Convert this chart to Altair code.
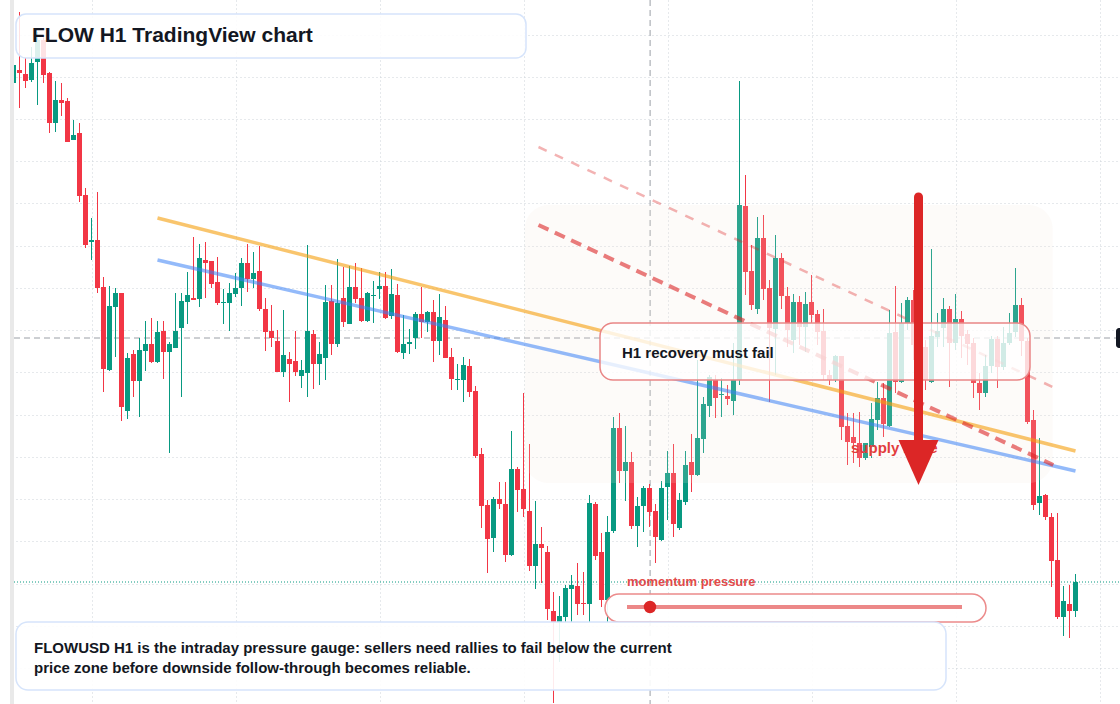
import altair as alt
import pandas as pd

# ---------------- data (prices in thousandths of a USD) ----------------
opens = [
    1017, 1030, 1026, 1020, 1038, 1060, 1027, 977, 1000, 999,
    960, 967, 905, 858, 860, 813, 730, 793, 807, 689,
    746, 719, 749, 756, 738, 769, 748, 752, 772, 798,
    802, 801, 840, 839, 818, 797, 797, 806, 812, 837,
    821, 829, 791, 769, 759, 728, 741, 739, 724, 727,
    766, 736, 742, 799, 756, 802, 776, 813, 802, 779,
    804, 811, 814, 784, 805, 747, 756, 762, 786, 778,
    788, 759, 780, 743, 720, 720, 734, 709, 646, 595,
    562, 601, 596, 545, 631, 611, 589, 534, 556, 548,
    489, 478, 483, 511, 514, 497, 496, 596, 548, 500,
    569, 672, 629, 638, 574, 594, 612, 589, 560, 613,
    627, 572, 598, 638, 625, 661, 694, 720, 705, 704,
    699, 720, 894, 829, 791, 862, 812, 771, 842, 804,
    760, 798, 773, 798, 786, 769, 725, 720, 744, 674,
    663, 657, 642, 653, 680, 702, 674, 768, 718, 777,
    800, 740, 753, 718, 763, 772, 791, 757, 781, 766,
    757, 717, 707, 734, 761, 733, 757, 768, 795, 759,
    680, 597, 605, 583, 540, 483, 496, 489,
]
highs = [
    1037, 1088, 1042, 1053, 1068, 1065, 1028, 1019, 1017, 1002,
    980, 977, 912, 882, 908, 823, 814, 812, 807, 747,
    750, 762, 779, 782, 779, 779, 758, 807, 807, 828,
    863, 856, 858, 839, 843, 811, 817, 827, 842, 856,
    848, 854, 802, 795, 770, 790, 748, 769, 740, 855,
    770, 758, 815, 815, 841, 833, 834, 837, 832, 808,
    819, 828, 828, 831, 816, 785, 771, 788, 813, 789,
    800, 806, 794, 752, 736, 743, 741, 714, 652, 600,
    603, 618, 618, 669, 633, 707, 656, 599, 573, 554,
    508, 504, 515, 525, 537, 528, 605, 598, 567, 584,
    683, 687, 674, 648, 603, 614, 616, 596, 619, 649,
    656, 607, 649, 666, 740, 703, 725, 725, 722, 715,
    757, 1019, 925, 855, 883, 885, 820, 865, 847, 813,
    806, 804, 808, 825, 790, 791, 730, 745, 744, 687,
    687, 688, 657, 697, 718, 717, 790, 814, 797, 803,
    810, 770, 760, 851, 787, 802, 794, 806, 789, 770,
    762, 727, 745, 764, 764, 773, 787, 832, 802, 762,
    690, 662, 606, 587, 587, 514, 515, 526,
]
lows = [
    1016, 992, 1012, 1018, 995, 1017, 967, 968, 984, 958,
    960, 898, 852, 840, 807, 708, 729, 743, 679, 681,
    703, 683, 729, 737, 737, 721, 647, 752, 703, 776,
    800, 793, 802, 812, 795, 776, 769, 803, 794, 808,
    812, 789, 749, 753, 728, 723, 698, 724, 712, 703,
    711, 715, 720, 745, 753, 773, 776, 797, 778, 778,
    777, 801, 781, 781, 747, 741, 746, 751, 762, 768,
    738, 745, 742, 710, 710, 698, 703, 642, 572, 527,
    548, 591, 538, 544, 588, 583, 529, 511, 517, 480,
    397, 438, 478, 478, 485, 485, 478, 540, 493, 478,
    567, 617, 599, 571, 553, 568, 573, 537, 559, 580,
    563, 570, 595, 608, 624, 647, 683, 682, 683, 695,
    685, 715, 805, 790, 786, 800, 698, 725, 791, 753,
    747, 755, 748, 777, 755, 720, 715, 718, 660, 635,
    637, 633, 640, 642, 670, 663, 673, 707, 717, 770,
    740, 728, 710, 717, 753, 753, 713, 750, 742, 735,
    702, 690, 703, 727, 712, 730, 755, 763, 744, 676,
    590, 585, 580, 513, 481, 464, 462, 483,
]
closes = [
    1035, 1027, 1019, 1037, 1060, 1025, 977, 1000, 997, 958,
    965, 904, 855, 860, 812, 731, 794, 807, 693, 742,
    719, 750, 756, 738, 768, 748, 756, 769, 799, 805,
    800, 842, 837, 816, 797, 798, 807, 812, 837, 821,
    827, 791, 768, 762, 728, 745, 736, 728, 730, 769,
    736, 746, 798, 756, 797, 778, 813, 801, 779, 807,
    805, 814, 782, 806, 748, 756, 758, 786, 778, 788,
    759, 783, 742, 721, 721, 735, 708, 644, 594, 561,
    601, 596, 545, 631, 610, 591, 534, 556, 552, 491,
    478, 484, 512, 515, 496, 496, 597, 544, 500, 568,
    672, 629, 638, 574, 594, 612, 588, 563, 612, 627,
    576, 600, 635, 625, 662, 696, 723, 702, 706, 701,
    720, 895, 828, 795, 862, 811, 772, 842, 804, 770,
    798, 773, 796, 785, 768, 725, 720, 744, 673, 658,
    657, 642, 657, 681, 702, 676, 767, 718, 777, 800,
    755, 754, 720, 764, 769, 791, 757, 781, 764, 756,
    717, 707, 734, 761, 733, 757, 767, 795, 759, 678,
    595, 604, 583, 539, 483, 499, 489, 518,
]

grid_bars = [13.1, 37.1, 61.1, 85.1, 109.1, 133.1, 157.1, 181.1]
grid_prices = [1.065, 1.023, 0.981, 0.939, 0.897, 0.854, 0.812, 0.770,
               0.728, 0.685, 0.643, 0.601, 0.559, 0.516, 0.474, 0.432]

crosshair_bar = 106.1
crosshair_price = 0.762
last_price = 0.518

# trend / channel lines (bar index, price)
orange_bar = [24, 177]
orange_price = [0.882, 0.649]
blue_bar = [24, 177]
blue_price = [0.840, 0.629]
red_bar = [87.5, 173.3]
red_price = [0.875, 0.635]
pink_bar = [87.5, 173.2]
pink_price = [0.953, 0.713]
zone_bar = [85.2, 173.2]
zone_price = [0.895, 0.617]

title_text = "FLOW H1 TradingView chart"
box_text = "H1 recovery must fail"
zone_text = "supply zone"
gauge_text = "momentum pressure"
note_lines = [
    "FLOWUSD H1 is the intraday pressure gauge: sellers need rallies to fail below the current",
    "price zone before downside follow-through becomes reliable.",
]

# ---------------- chart ----------------
GREEN = "#089981"
RED = "#f23645"
FONT = "Liberation Sans"
DARK = "#131722"

candles = pd.DataFrame({
    "bar": list(range(len(opens))),
    "open": [v / 1000 for v in opens],
    "high": [v / 1000 for v in highs],
    "low": [v / 1000 for v in lows],
    "close": [v / 1000 for v in closes],
})
candles["dir"] = ["up" if c >= o else "down" for o, c in zip(opens, closes)]

xs = alt.Scale(domain=[-13.5 / 6, 1106.5 / 6], nice=False, zero=False)
ys = alt.Scale(domain=[0.396, 1.100], nice=False, zero=False)
xaxis = alt.Axis(values=grid_bars, grid=True, gridDash=[1, 3], gridColor="#cdd2d8",
                 gridWidth=1, labels=False, ticks=False, domain=False, title="")
yaxis = alt.Axis(values=grid_prices, grid=True, gridDash=[1, 3], gridColor="#cdd2d8",
                 gridWidth=1, labels=False, ticks=False, domain=False, title="")


def X(field):
    return alt.X(field, type="quantitative", scale=xs, axis=xaxis)


def Y(field):
    return alt.Y(field, type="quantitative", scale=ys, axis=yaxis)


def ann():
    return alt.Chart(alt.Data(values=[{"a": 1}]))


color = alt.Color("dir:N", scale=alt.Scale(domain=["up", "down"], range=[GREEN, RED]), legend=None)

left_blank = ann().mark_rect(color="white").encode(
    x=alt.value(0), x2=alt.value(10), y=alt.value(0), y2=alt.value(704))

cross_h = alt.Chart(pd.DataFrame({"p": [crosshair_price]})).mark_rule(
    color="#9a9fa6", strokeDash=[6, 4], strokeWidth=1).encode(
    y=Y("p"), x=alt.value(14), x2=alt.value(1116))
cross_v = alt.Chart(pd.DataFrame({"b": [crosshair_bar]})).mark_rule(
    color="#9a9fa6", strokeDash=[6, 4], strokeWidth=1).encode(
    x=X("b"), y=alt.value(0), y2=alt.value(704))
last_line = alt.Chart(pd.DataFrame({"p": [last_price]})).mark_rule(
    color=GREEN, strokeDash=[1, 2], strokeWidth=1).encode(
    y=Y("p"), x=alt.value(14), x2=alt.value(1120))

wicks = alt.Chart(candles).mark_rule(strokeWidth=1).encode(
    x=X("bar"), y=Y("low"), y2="high", color=color)
bodies = alt.Chart(candles).mark_rule(strokeWidth=5, strokeCap="butt").encode(
    x=X("bar"), y=Y("open"), y2="close", color=color)

zone = alt.Chart(pd.DataFrame({"b1": [zone_bar[0]], "b2": [zone_bar[1]],
                               "p1": [zone_price[0]], "p2": [zone_price[1]]})).mark_rect(
    cornerRadius=24, fill="#f5e4d8", fillOpacity=0.16).encode(
    x=X("b1"), x2="b2", y=Y("p1"), y2="p2")


def seg(bars, prices, **kw):
    df = pd.DataFrame({"bar": bars, "price": prices})
    return alt.Chart(df).mark_line(**kw).encode(x=X("bar"), y=Y("price"))


orange = seg(orange_bar, orange_price, color="#f59e0b", opacity=0.6, strokeWidth=3.5)
blue = seg(blue_bar, blue_price, color="#3b82f6", opacity=0.55, strokeWidth=3.5)
red_dash = seg(red_bar, red_price, color="#dc2626", opacity=0.6, strokeWidth=4, strokeDash=[11, 7])
pink_dash = seg(pink_bar, pink_price, color="#dc2626", opacity=0.35, strokeWidth=2.5, strokeDash=[9, 9])

h1_box = ann().mark_rect(cornerRadius=13, fill="white", fillOpacity=0.78,
                         stroke="#e98686", strokeWidth=1.5).encode(
    x=alt.value(600), x2=alt.value(1030), y=alt.value(323), y2=alt.value(380))
h1_txt = ann().mark_text(text=box_text, align="left", baseline="middle", font=FONT,
                         fontSize=15, fontWeight="bold", color=DARK).encode(
    x=alt.value(622), y=alt.value(353))

zone_txt = ann().mark_text(text=zone_text, align="left", baseline="middle", font=FONT,
                           fontSize=15, fontWeight="bold", color="#e23d3d").encode(
    x=alt.value(851), y=alt.value(448))

arrow_stem = ann().mark_rule(color="#dc2626", strokeWidth=9, strokeCap="round").encode(
    x=alt.value(918.5), y=alt.value(197), y2=alt.value(447))
arrow_head = ann().mark_point(shape="M-1,-1L1,-1L0,1.25Z", size=1600, filled=True,
                              color="#dc2626", opacity=1, strokeWidth=0).encode(
    x=alt.value(918.5), y=alt.value(460))

gauge_txt = ann().mark_text(text=gauge_text, align="left", baseline="middle", font=FONT,
                            fontSize=13, fontWeight="bold", color="#e24a4a").encode(
    x=alt.value(627), y=alt.value(582))
gauge_box = ann().mark_rect(cornerRadius=14, fill="white", fillOpacity=0.92,
                            stroke="#ec8b8b", strokeWidth=1.5).encode(
    x=alt.value(605), x2=alt.value(986), y=alt.value(594), y2=alt.value(622))
gauge_track = ann().mark_rule(color="#dc2626", opacity=0.55, strokeWidth=4).encode(
    x=alt.value(627), x2=alt.value(962), y=alt.value(607))
gauge_dot = ann().mark_circle(size=154, color="#dc2626", opacity=1).encode(
    x=alt.value(650), y=alt.value(607))

note_box = ann().mark_rect(cornerRadius=12, fill="white", fillOpacity=0.9,
                           stroke="#d6e4fb", strokeWidth=1.5).encode(
    x=alt.value(16), x2=alt.value(946), y=alt.value(622), y2=alt.value(690))
note_1 = ann().mark_text(text=note_lines[0], align="left", baseline="middle", font=FONT,
                         fontSize=15, fontWeight="bold", color=DARK).encode(
    x=alt.value(34), y=alt.value(648))
note_2 = ann().mark_text(text=note_lines[1], align="left", baseline="middle", font=FONT,
                         fontSize=15, fontWeight="bold", color=DARK).encode(
    x=alt.value(34), y=alt.value(668))

title_box = ann().mark_rect(cornerRadius=10, fill="white", fillOpacity=0.86,
                            stroke="#d6e4fb", strokeWidth=1.5).encode(
    x=alt.value(16), x2=alt.value(526), y=alt.value(14), y2=alt.value(58))
title_txt = ann().mark_text(text=title_text, align="left", baseline="middle", font=FONT,
                            fontSize=21, fontWeight="bold", color=DARK).encode(
    x=alt.value(32), y=alt.value(36))

gray_bar = ann().mark_rect(color="#e9e9e9").encode(
    x=alt.value(10), x2=alt.value(14), y=alt.value(0), y2=alt.value(704))
price_tag = ann().mark_rect(color=DARK, cornerRadius=3).encode(
    x=alt.value(1116), x2=alt.value(1136), y=alt.value(328), y2=alt.value(348))

chart = alt.layer(
    left_blank, cross_h, cross_v, last_line,
    wicks, bodies, zone,
    orange, blue, pink_dash, red_dash,
    h1_box, h1_txt, zone_txt, arrow_stem, arrow_head,
    gauge_txt, gauge_box, gauge_track, gauge_dot,
    note_box, note_1, note_2, title_box, title_txt,
    gray_bar, price_tag,
).properties(
    width=1120, height=704, padding=0,
    autosize=alt.AutoSizeParams(type="none"),
    background="white",
).configure_view(strokeOpacity=0)

chart.save("out.html", embed_options={"renderer": "svg", "actions": False})
